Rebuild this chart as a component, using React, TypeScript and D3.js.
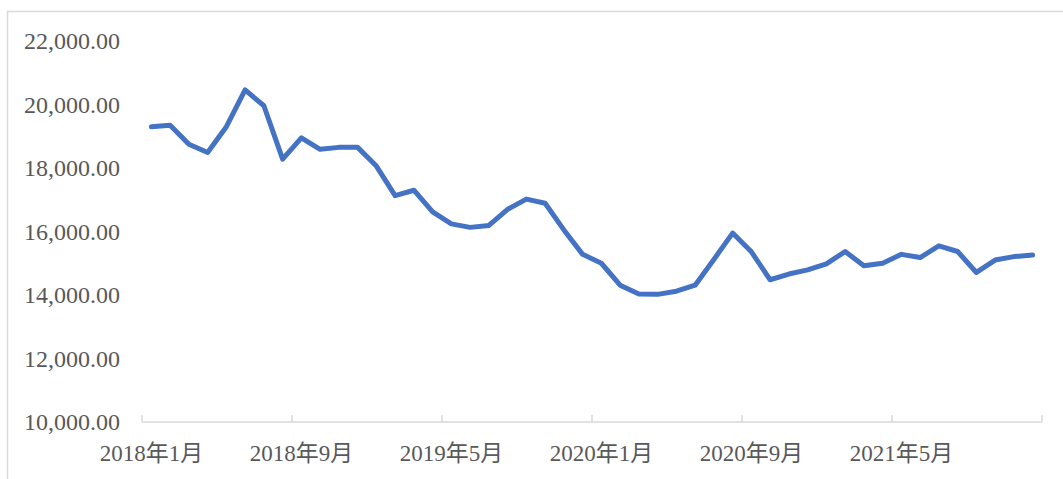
import React from 'react';
import * as d3 from 'd3';

// monthly values, 2018-01 .. 2021-12
const values = [
  19300, 19350, 18750, 18490, 19300, 20460, 19960, 18280, 18950, 18590, 18650, 18650,
  18060, 17130, 17300, 16620, 16240, 16130, 16190, 16700, 17020, 16890, 16050, 15280,
  15000, 14310, 14030, 14020, 14120, 14310, 15120, 15950, 15360, 14480, 14660, 14790,
  14980, 15370, 14920, 15000, 15280, 15180, 15550, 15370, 14710, 15100, 15210, 15260
];

const years = [2018, 2019, 2020, 2021];
const months = years.flatMap(y => d3.range(1, 13).map(m => `${y}年${m}月`));

const xTickLabels = ['2018年1月', '2018年9月', '2019年5月', '2020年1月', '2020年9月', '2021年5月'];
const yTicks = [10000, 12000, 14000, 16000, 18000, 20000, 22000];

const width = 1063;
const height = 479;
const margin_left = 142;
const plot_right = 1042;
const axis_y = 422;
const top_y = 41;

const textColor = '#595959';
const gridColor = '#D9D9D9';
const lineColor = '#4472C4';
const font = '"Liberation Serif", "Noto Sans CJK SC", serif';

export default function App() {
  const x = d3.scaleBand<string>().domain(months).range([margin_left, plot_right]);
  const y = d3.scaleLinear().domain([10000, 22000]).range([axis_y, top_y]);
  const fmt = d3.format(',.2f');

  const line = d3
    .line<number>()
    .x((d, i) => (x(months[i]) as number) + x.bandwidth() / 2)
    .y(d => y(d));

  // tick marks every 8 months, plus the end of the axis
  const tickIdx = d3.range(0, months.length + 1, 8);
  const tickX = (i: number) => (i < months.length ? (x(months[i]) as number) : plot_right);

  return (
    <svg
      width={width}
      height={height}
      style={{ position: 'absolute', left: 0, top: 0, background: '#fff' }}
    >
      <rect x={7.5} y={11.5} width={width} height={height} fill="#fff" stroke={gridColor} strokeWidth={1.5} />

      <g fontFamily={font} fontSize={24} fill={textColor}>
        {yTicks.map(t => (
          <text key={t} x={120} y={y(t)} textAnchor="end" dominantBaseline="central">
            {fmt(t)}
          </text>
        ))}
      </g>

      <line x1={margin_left} x2={plot_right} y1={axis_y} y2={axis_y} stroke={gridColor} strokeWidth={1.5} />
      {tickIdx.map(i => (
        <line key={i} x1={tickX(i)} x2={tickX(i)} y1={axis_y} y2={axis_y - 7} stroke={gridColor} strokeWidth={1.5} />
      ))}

      <g fontFamily={font} fontSize={23} fill={textColor}>
        {xTickLabels.map(l => (
          <text key={l} x={(x(l) as number) + x.bandwidth() / 2} y={461} textAnchor="middle">
            {l}
          </text>
        ))}
      </g>

      <path
        d={line(values) as string}
        fill="none"
        stroke={lineColor}
        strokeWidth={5}
        strokeLinejoin="round"
        strokeLinecap="round"
      />
    </svg>
  );
}
